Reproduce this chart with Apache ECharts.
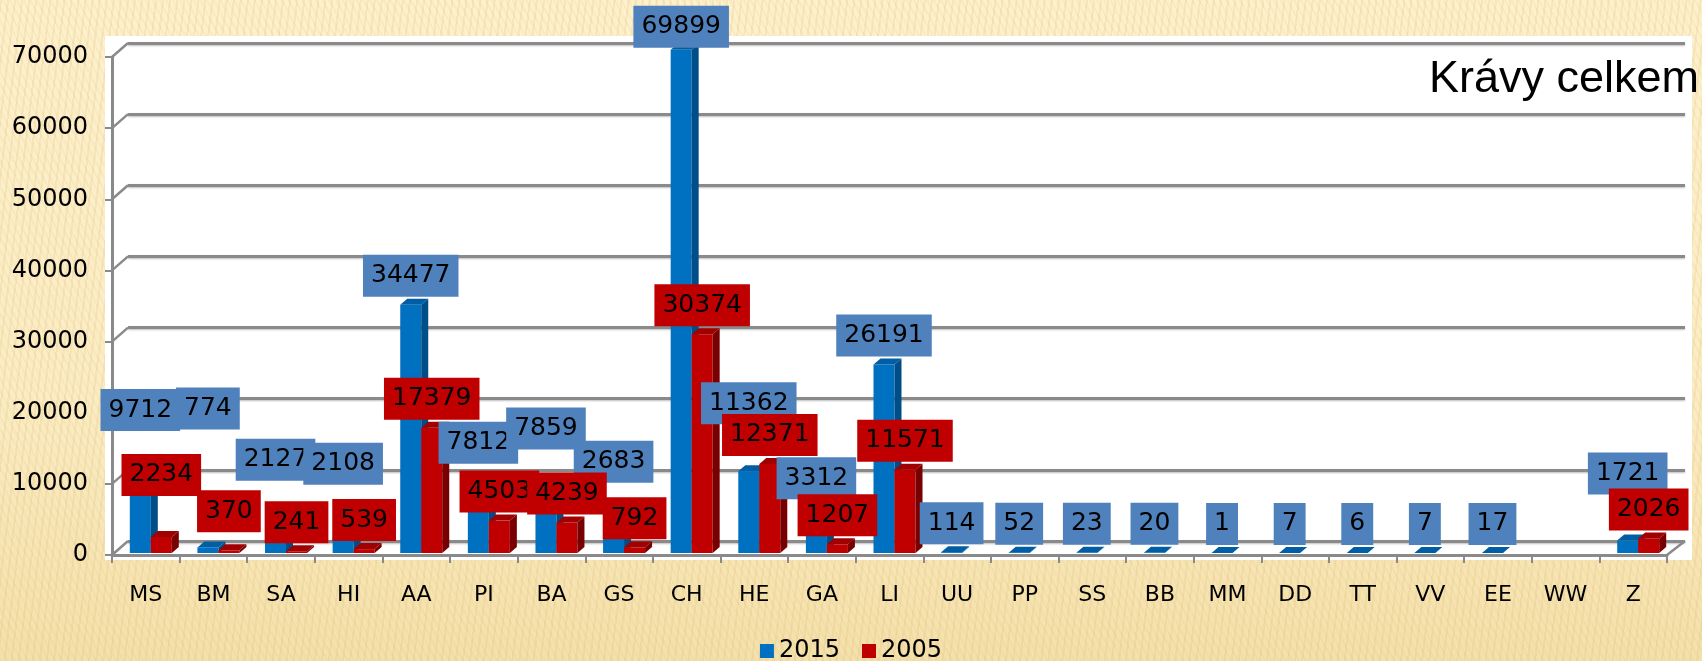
<!DOCTYPE html>
<html><head><meta charset="utf-8">
<script src="https://cdn.jsdelivr.net/npm/echarts@6/dist/echarts.min.js"></script>
<style>
html,body{margin:0;padding:0;}
#c{width:1702px;height:661px;
background:
 repeating-linear-gradient(97deg, rgba(214,178,105,0.16) 0px, rgba(214,178,105,0.16) 2px, rgba(255,255,255,0) 2px, rgba(255,255,255,0) 7px),
 repeating-linear-gradient(62deg, rgba(214,178,105,0.10) 0px, rgba(214,178,105,0.10) 2px, rgba(255,255,255,0) 2px, rgba(255,255,255,0) 6px),
 linear-gradient(180deg, #FDF0CB 0%, #FBECC3 60%, #F4E0AA 100%);}
</style></head><body><div id="c"></div>
<script>
// ---- data ----
const categories = ['MS','BM','SA','HI','AA','PI','BA','GS','CH','HE','GA','LI','UU','PP','SS','BB','MM','DD','TT','VV','EE','WW','Z'];
const values2015 = [9712,774,2127,2108,34477,7812,7859,2683,69899,11362,3312,26191,114,52,23,20,1,7,6,7,17,null,1721];
const values2005 = [2234,370,241,539,17379,4503,4239,792,30374,12371,1207,11571,null,null,null,null,null,null,null,null,null,null,2026];
const seriesNames = ['2015','2005'];
const yMin = 0, yMax = 70000, yStep = 10000;
const titleText = 'Krávy celkem';

// ---- layout / style (not data) ----
const labelLift2015 = [44,110,49,45,0,25,39,43,-6,39,22,0,0,0,0,0,0,0,0,0,0,0,38];
const labelLift2005 = [33,10,0,0,0,0,0,0,0,0,0,0,0,0,0,0,0,0,0,0,0,0,0];
const FRONT = {left:112, top:57, width:1555, height:498};
const BARS  = {left:117, top:49, width:1555, height:504};
const BACK  = {left:128, top:43, width:1557, height:498};
const BAR_W = 21, DX = 7, DY = 6, LABEL_GAP = 29;
const FONT = '"DejaVu Sans", sans-serif';
const GRAY = '#8a8a8a';

const chart = echarts.init(document.getElementById('c'), null, {renderer:'canvas'});

function makeRender(which, vals, lifts, front, side, top, labelBg, z2) {
  return function(params, api) {
    const i = api.value(0), v = api.value(1);
    if (v == null || isNaN(v)) return null;
    const p = api.coord([i, v]);
    const b = api.coord([i, 0]);
    const x0 = which === 0 ? p[0] - BAR_W : p[0];
    const yt = p[1], yb = b[1];
    return {
      type:'group',
      children:[
        {type:'rect', shape:{x:x0, y:yt, width:BAR_W, height:Math.max(0, yb-yt)}, style:{fill:front}},
        {type:'polygon', shape:{points:[[x0+BAR_W,yt],[x0+BAR_W+DX,yt-DY],[x0+BAR_W+DX,yb-DY],[x0+BAR_W,yb]]}, style:{fill:side}},
        {type:'polygon', shape:{points:[[x0,yt],[x0+DX,yt-DY],[x0+BAR_W+DX,yt-DY],[x0+BAR_W,yt]]}, style:{fill:top}},
        {type:'text', z2:z2, style:{
          text:String(vals[i]), x:x0+BAR_W/2, y:yt-LABEL_GAP-lifts[i],
          align:'center', verticalAlign:'middle', fill:'#000',
          font:'25px ' + FONT, lineHeight:25,
          backgroundColor:labelBg, padding:[9,8,8,8]}}
      ]
    };
  };
}

const option = {
  animation:false,
  backgroundColor:'transparent',
  title:{text:titleText, left:1424, top:52,
    textStyle:{fontSize:45, fontWeight:'normal', color:'#000', fontFamily:'"Liberation Sans", Arial, sans-serif'}},
  legend:{data:seriesNames, left:'center', top:634, icon:'rect', itemWidth:14, itemHeight:14, itemGap:22,
    textStyle:{fontSize:24, color:'#000', fontFamily:FONT}},
  graphic:[
    {type:'rect', z:-10, silent:true, shape:{x:105, y:36, width:1587, height:524}, style:{fill:'#ffffff'}}
  ],
  grid:[
    Object.assign({containLabel:false}, FRONT),
    Object.assign({containLabel:false}, BARS),
    Object.assign({containLabel:false}, BACK)
  ],
  xAxis:[
    {type:'category', gridIndex:0, data:categories,
     axisLine:{show:true, lineStyle:{color:GRAY, width:3}},
     axisTick:{show:true, length:8, lineStyle:{color:GRAY, width:2}},
     axisLabel:{fontSize:22, margin:29, color:'#000', fontFamily:FONT, interval:0},
     splitLine:{show:false}},
    {type:'category', gridIndex:1, data:categories, show:false},
    {type:'category', gridIndex:2, data:categories, show:false}
  ],
  yAxis:[
    {type:'value', gridIndex:0, min:yMin, max:yMax, interval:yStep,
     axisLine:{show:true, lineStyle:{color:GRAY, width:3}},
     axisTick:{show:true, length:7, lineStyle:{color:GRAY, width:2}},
     axisLabel:{fontSize:24, margin:24, color:'#000', fontFamily:FONT, formatter:(v)=>String(v)},
     splitLine:{show:false}},
    {type:'value', gridIndex:1, min:yMin, max:yMax, interval:yStep, show:false},
    {type:'value', gridIndex:2, min:yMin, max:yMax, interval:yStep,
     axisLine:{show:false}, axisTick:{show:false}, axisLabel:{show:false},
     splitLine:{show:true, lineStyle:{color:'#8a8a8a', width:3, shadowColor:'rgba(0,0,0,0.25)', shadowBlur:2, shadowOffsetY:1}}}
  ],
  series:[
    {name:seriesNames[0], type:'custom', xAxisIndex:1, yAxisIndex:1, silent:true,
     itemStyle:{color:'#0070C0'},
     data:categories.map((c,i)=>[i, values2015[i]]),
     renderItem:makeRender(0, values2015, labelLift2015, '#0070C0', '#004E88', '#005EA4', '#4F81BD', 100)},
    {name:seriesNames[1], type:'custom', xAxisIndex:1, yAxisIndex:1, silent:true,
     itemStyle:{color:'#C00000'},
     data:categories.map((c,i)=>[i, values2005[i]]),
     renderItem:makeRender(1, values2005, labelLift2005, '#C00000', '#780000', '#A00000', '#C00000', 101)}
  ]
};
chart.setOption(option);

// 3D connectors: front ticks -> back wall gridlines, and right floor edge
const extra = [];
for (let v = yMin; v <= yMax; v += yStep) {
  const yf = chart.convertToPixel({yAxisIndex:0}, v);
  const yb = chart.convertToPixel({yAxisIndex:2}, v);
  extra.push({type:'line', silent:true, z:1, shape:{x1:FRONT.left, y1:yf, x2:BACK.left, y2:yb},
    style:{stroke:GRAY, lineWidth:2.5}});
}
const yf0 = chart.convertToPixel({yAxisIndex:0}, yMin);
const yb0 = chart.convertToPixel({yAxisIndex:2}, yMin);
extra.push({type:'line', silent:true, z:1, shape:{x1:FRONT.left+FRONT.width, y1:yf0, x2:BACK.left+BACK.width, y2:yb0},
  style:{stroke:GRAY, lineWidth:2.5}});
chart.setOption({graphic:[option.graphic[0]].concat(extra)});
</script>
</body></html>
